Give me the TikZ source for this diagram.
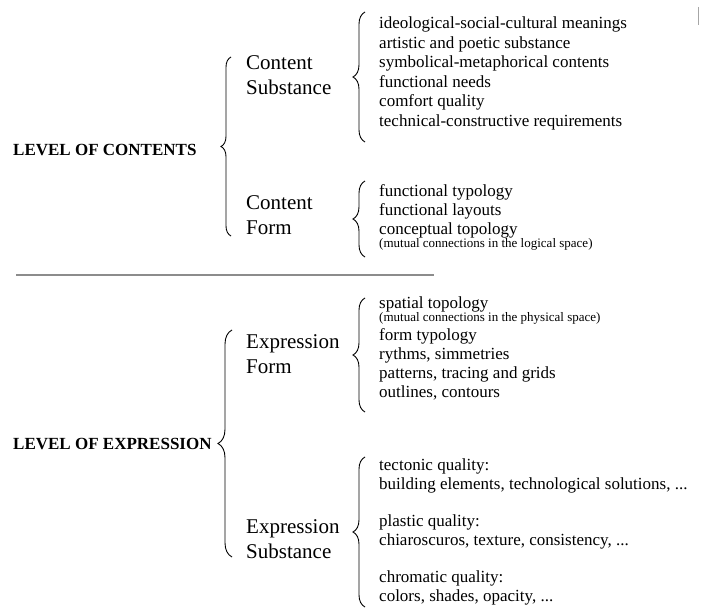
\documentclass[tikz,border=0pt]{standalone}
\usepackage{fontspec}
\setmainfont{Liberation Serif}
\usetikzlibrary{decorations.pathreplacing}
\begin{document}
\begin{tikzpicture}[x=1pt,y=1pt,
  item/.style={anchor=base west,inner sep=0pt,font=\fontsize{17}{19}\selectfont},
  smallnote/.style={anchor=base west,inner sep=0pt,font=\fontsize{13}{14}\selectfont},
  midlabel/.style={anchor=base west,inner sep=0pt,font=\fontsize{21}{25}\selectfont},
  levellabel/.style={anchor=base west,inner sep=0pt,font=\fontsize{17}{19}\selectfont\bfseries},
  rbrace/.style={decorate,decoration={brace,amplitude=12pt,aspect=0.5},line width=0.9pt},
  lbraceA/.style={decorate,decoration={brace,amplitude=10pt,aspect=0.5},line width=0.9pt},
  lbraceB/.style={decorate,decoration={brace,amplitude=14pt,aspect=0.5},line width=0.9pt},
  rulestyle/.style={draw=black!45,line width=1.5pt},
  topmark/.style={draw=black!35,line width=1pt}
]
\useasboundingbox (0,0) rectangle (705,-610);

% level labels
\node[levellabel] (lc) at (13,-155) {LEVEL OF CONTENTS};
\node[levellabel] (le) at (13,-449) {LEVEL OF EXPRESSION};

% big braces
\coordinate (bcTop) at (231,-57);
\coordinate (bcBot) at (231,-236);
\draw[lbraceA] (bcBot) -- (bcTop);
\coordinate (beTop) at (232,-330);
\coordinate (beBot) at (232,-557);
\draw[lbraceB] (beBot) -- (beTop);

% middle labels
\node[midlabel] (cs1) at (246,-70) {Content};
\node[midlabel] (cs2) at (246,-95) {Substance};
\node[midlabel] (cf1) at (246,-209) {Content};
\node[midlabel] (cf2) at (246,-234) {Form};
\node[midlabel] (ef1) at (246,-348) {Expression};
\node[midlabel] (ef2) at (246,-373) {Form};
\node[midlabel] (es1) at (246,-533) {Expression};
\node[midlabel] (es2) at (246,-558) {Substance};

% right braces
\coordinate (csTop) at (365,-12);
\coordinate (csBot) at (365,-142);
\draw[rbrace] (csBot) -- (csTop);
\coordinate (cfTop) at (365,-181);
\coordinate (cfBot) at (365,-257);
\draw[rbrace] (cfBot) -- (cfTop);
\coordinate (efTop) at (365,-298);
\coordinate (efBot) at (365,-412);
\draw[rbrace] (efBot) -- (efTop);
\coordinate (esTop) at (365,-457);
\coordinate (esBot) at (365,-607);
\draw[rbrace] (esBot) -- (esTop);

% content substance list
\node[item] (i1) at (379,-29) {ideological-social-cultural meanings};
\node[item] (i2) at (379,-48.4) {artistic and poetic substance};
\node[item] (i3) at (379,-67.8) {symbolical-metaphorical contents};
\node[item] (i4) at (379,-87.2) {functional needs};
\node[item] (i5) at (379,-106.6) {comfort quality};
\node[item] (i6) at (379,-126) {technical-constructive requirements};

% content form list
\node[item] (f1) at (379,-196) {functional typology};
\node[item] (f2) at (379,-215.4) {functional layouts};
\node[item] (f3) at (379,-234) {conceptual topology};
\node[smallnote] (f4) at (379,-247.5) {(mutual connections in the logical space)};

% separator
\coordinate (ruleL) at (16,-275);
\coordinate (ruleR) at (434,-275);
\draw[rulestyle] (ruleL) -- (ruleR);

% expression form list
\node[item] (e1) at (379,-308) {spatial topology};
\node[smallnote] (e2) at (379,-321.5) {(mutual connections in the physical space)};
\node[item] (e3) at (379,-340) {form typology};
\node[item] (e4) at (379,-359.2) {rythms, simmetries};
\node[item] (e5) at (379,-378.4) {patterns, tracing and grids};
\node[item] (e6) at (379,-397.6) {outlines, contours};

% expression substance list
\node[item] (s1) at (379,-470) {tectonic quality:};
\node[item] (s2) at (379,-489) {building elements, technological solutions, ...};
\node[item] (s3) at (379,-526) {plastic quality:};
\node[item] (s4) at (379,-545) {chiaroscuros, texture, consistency, ...};
\node[item] (s5) at (379,-582) {chromatic quality:};
\node[item] (s6) at (379,-601) {colors, shades, opacity, ...};

% small grey mark top right
\coordinate (mkTop) at (698.5,-7);
\coordinate (mkBot) at (698.5,-25);
\draw[topmark] (mkTop) -- (mkBot);
\end{tikzpicture}
\end{document}
